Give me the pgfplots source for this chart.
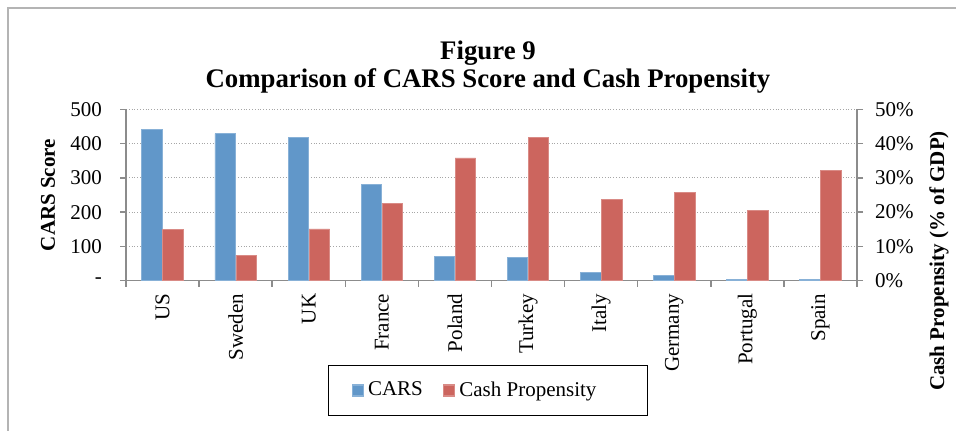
\documentclass[border=0pt]{standalone}
\usepackage{pgfplots}
\pgfplotsset{compat=1.18}
\usepackage{fontspec}
\setmainfont{Liberation Serif}
\definecolor{carsblue}{HTML}{6197C9}
\definecolor{cashred}{HTML}{CC655E}
\definecolor{axisgray}{HTML}{8C8C8C}
\definecolor{gridgray}{HTML}{A6A6A6}
\definecolor{framegray}{HTML}{B4B4B4}
\newcommand{\lblfont}{\fontsize{10.5}{12.5}\selectfont}

\pgfplotsset{
  chartbase/.style={
    scale only axis, width=365.5pt, height=85.7pt,
    at={(63pt,-140.35pt)}, anchor=south west,
    xmin=-0.5, xmax=9.5,
    ybar, bar width=10.25pt,
    axis line style={axisgray, line width=0.75pt},
    tick style={axisgray, line width=0.75pt},
    tick align=outside,
    major tick length=3pt,
    minor tick length=3pt,
    tick label style={font=\lblfont},
    /pgf/number format/assume math mode=true,
  },
}

\begin{document}
\begin{tikzpicture}
\useasboundingbox (0,0) rectangle (478pt,-215.5pt);
\draw[framegray, line width=0.75pt] (4pt,-220pt) -- (4pt,-4pt) -- (482pt,-4pt);

% left axis: CARS score
\begin{axis}[chartbase,
  axis x line*=bottom, axis y line*=left,
  ymin=0, ymax=500, ytick={0,100,...,500},
  yticklabels={-,100,200,300,400,500},
  ymajorgrids, grid style={gridgray, densely dotted, line width=0.6pt},
  xtick={0,...,9},
  xticklabels={US,Sweden,UK,France,Poland,Turkey,Italy,Germany,Portugal,Spain},
  every major x tick/.append style={draw=none},
  minor xtick={-0.5,0.5,...,9.5},
  xticklabel style={rotate=90, anchor=east},
  yticklabel style={xshift=-5.5pt},
]
\addplot[fill=carsblue, draw=carsblue!75!white, bar shift=-5.25pt] coordinates
  {(0,440)(1,429)(2,417)(3,281)(4,72)(5,67)(6,24.5)(7,16.6)(8,4)(9,4)};
\end{axis}

% right axis: cash propensity (% of GDP)
\begin{axis}[chartbase,
  axis x line=none, axis y line*=right,
  xtick=\empty,
  ymin=0, ymax=50, ytick={0,10,...,50},
  yticklabels={0\%,10\%,20\%,30\%,40\%,50\%},
  yticklabel style={xshift=2.5pt},
  legend columns=2,
  legend image code/.code={\fill[#1] (0pt,-2.75pt) rectangle (5.5pt,2.75pt);},
  legend style={at={(0.4952,-0.6406)}, anchor=center, draw=black,
    line width=0.75pt, font=\lblfont, inner xsep=11.5pt, inner ysep=6pt,
    /tikz/every even column/.append style={column sep=8pt}},
]
\addlegendimage{fill=carsblue, draw=carsblue!75!white}
\addlegendentry{CARS}
\addplot[fill=cashred, draw=cashred!75!white, bar shift=5.25pt] coordinates
  {(0,14.9)(1,7.4)(2,15.1)(3,22.6)(4,35.8)(5,41.7)(6,23.8)(7,25.8)(8,20.6)(9,32.2)};
\addlegendentry{Cash Propensity\kern12pt}
\end{axis}

\node[rotate=90, font=\bfseries\lblfont] at (24pt,-97.5pt) {CARS Score};
\node[rotate=90, font=\bfseries\lblfont] at (469.5pt,-130.5pt) {Cash Propensity (\% of GDP)};
\node[anchor=base, font=\bfseries\fontsize{13.4}{16}\selectfont] at (244pt,-30pt) {Figure 9};
\node[anchor=base, font=\bfseries\fontsize{13.4}{16}\selectfont] at (244pt,-44pt) {Comparison of CARS Score and Cash Propensity};
\end{tikzpicture}
\end{document}
